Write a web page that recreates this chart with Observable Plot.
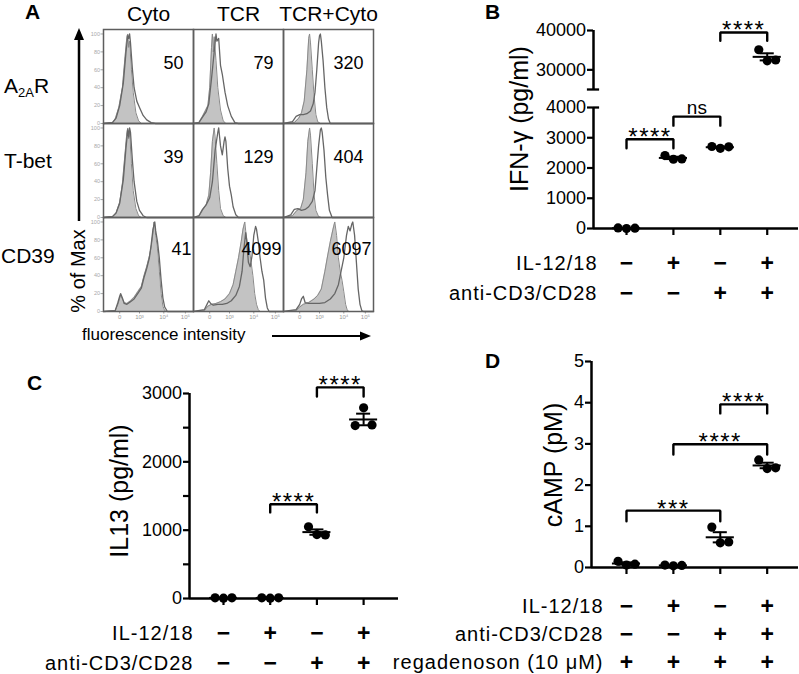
<!DOCTYPE html>
<html><head><meta charset="utf-8">
<script src="https://cdn.jsdelivr.net/npm/d3@7"></script>
<script src="https://cdn.jsdelivr.net/npm/@observablehq/plot@0.6"></script>
<style>
body{margin:0;background:#fff;}
#root{position:relative;width:799px;height:674px;overflow:hidden;font-family:"Liberation Sans",Arial,Helvetica,sans-serif;background:#fff;}
#root svg{position:absolute;}
</style></head><body><div id="root"></div>
<script>
const FONT = '"Liberation Sans", Arial, Helvetica, sans-serif';

// ---------------- Panel A data ----------------
const conditions = ["Cyto", "TCR", "TCR+Cyto"];
const markers = ["A2AR", "T-bet", "CD39"];
const mfiA2AR = [50, 79, 320];
const mfiTbet = [39, 129, 404];
const mfiCD39 = [41, 4099, 6097];
const pctTicks = [0, 20, 40, 60, 80, 100];
const fluorTicks = [18, 40, 67, 91];
const fluorTickLabels = ["0", "10³", "10⁴", "10⁵"];

// histogram curves: [display fluorescence position, % of max]
const a2arCytoIso = [[0,0],[10,1],[13,5],[17,18],[21,40],[24,75],[26,97],[27,100],[28,85],[29,92],[31,60],[33,35],[36,12],[39,3],[42,0],[100,0]];
const a2arCytoSample = [[0,0],[10,1],[14,6],[18,20],[22,45],[25,80],[27,98],[28,95],[29,100],[30,90],[32,62],[34,40],[37,25],[40,18],[44,9],[48,4],[53,1],[58,0],[100,0]];
const a2arTcrIso = [[0,0],[6,1],[10,8],[13,14],[16,20],[18,40],[20,85],[21,100],[22,80],[23,97],[25,70],[27,40],[30,15],[33,3],[36,0],[100,0]];
const a2arTcrSample = [[0,0],[6,1],[10,7],[14,13],[17,22],[20,50],[23,80],[25,100],[26,92],[28,95],[30,65],[32,55],[35,35],[38,20],[42,8],[46,1],[50,0],[100,0]];
const a2arBothIso = [[0,0],[12,1],[17,6],[20,12],[23,25],[26,60],[28,95],[29,100],[30,90],[32,60],[34,30],[36,10],[38,2],[41,0],[100,0]];
const a2arBothSample = [[0,0],[10,2],[14,8],[18,10],[22,10],[26,11],[30,14],[33,22],[35,35],[37,60],[39,90],[40,98],[41,100],[42,92],[44,70],[46,40],[48,18],[50,5],[52,0],[100,0]];
const tbetCytoIso = [[0,0],[10,1],[14,5],[18,17],[21,38],[24,72],[26,95],[27,100],[28,88],[29,96],[31,60],[33,30],[36,10],[39,2],[42,0],[100,0]];
const tbetCytoSample = [[0,0],[10,1],[14,5],[18,16],[22,42],[25,78],[27,98],[28,90],[29,100],[30,95],[32,65],[34,40],[37,18],[40,8],[44,2],[48,0],[100,0]];
const tbetTcrIso = [[0,0],[6,1],[10,8],[14,14],[17,25],[19,50],[21,85],[23,100],[24,90],[26,60],[28,30],[30,10],[33,2],[36,0],[100,0]];
const tbetTcrSample = [[0,0],[6,2],[10,9],[14,14],[18,22],[21,40],[24,75],[27,95],[28,100],[30,80],[32,70],[34,85],[35,90],[36,85],[38,55],[40,35],[42,25],[44,12],[47,3],[50,0],[100,0]];
const tbetBothIso = [[0,0],[10,2],[15,8],[19,10],[22,20],[25,50],[27,85],[29,100],[30,92],[32,60],[34,25],[36,8],[39,1],[42,0],[100,0]];
const tbetBothSample = [[0,0],[8,3],[12,9],[16,10],[20,8],[24,9],[28,12],[32,18],[35,30],[37,55],[39,80],[41,98],[42,100],[43,95],[45,75],[47,45],[49,25],[51,8],[54,0],[100,0]];
const cd39CytoIso = [[0,0],[13,1],[16,8],[18,15],[19,18],[21,14],[23,10],[26,9],[30,12],[34,16],[38,22],[42,28],[45,40],[48,50],[51,62],[53,72],[55,88],[56,100],[57,95],[58,85],[60,70],[62,45],[64,20],[66,6],[68,1],[70,0],[100,0]];
const cd39CytoSample = [[0,0],[13,1],[16,10],[18,17],[19,20],[21,15],[23,9],[26,8],[30,11],[34,14],[38,20],[42,26],[45,38],[48,48],[51,60],[53,75],[55,92],[56,96],[57,100],[58,90],[60,78],[62,60],[64,35],[66,15],[68,5],[71,0],[100,0]];
const cd39TcrIso = [[0,0],[12,1],[16,6],[20,8],[25,9],[30,11],[35,14],[40,20],[44,30],[47,45],[50,60],[53,78],[55,92],[57,100],[58,90],[60,75],[62,70],[64,55],[66,40],[68,20],[70,8],[72,2],[74,0],[100,0]];
const cd39TcrSample = [[0,0],[12,2],[15,8],[17,12],[19,9],[22,7],[27,8],[32,8],[37,9],[42,12],[47,18],[51,28],[54,45],[56,70],[58,88],[59,80],[61,55],[63,50],[65,62],[67,85],[69,95],[70,92],[72,78],[74,60],[76,45],[78,35],[80,15],[82,4],[84,0],[100,0]];
const cd39BothIso = [[0,0],[14,1],[18,5],[22,8],[28,10],[34,14],[38,18],[42,25],[46,45],[49,62],[52,78],[55,92],[57,100],[59,85],[61,60],[63,45],[65,35],[67,22],[69,8],[71,1],[73,0],[100,0]];
const cd39BothSample = [[0,0],[14,2],[18,8],[20,14],[22,17],[24,10],[28,9],[34,9],[40,9],[46,10],[52,14],[57,20],[61,30],[64,45],[67,60],[70,85],[72,95],[74,90],[76,98],[77,100],[79,85],[81,55],[83,25],[85,8],[87,1],[89,0],[100,0]];

// ---------------- Panels B-D data ----------------
const groups = [1, 2, 3, 4];
const il1218Signs = ["−", "+", "−", "+"];
const antiCD3Signs = ["−", "−", "+", "+"];
const regadenosonSigns = ["+", "+", "+", "+"];

// replicate values per group (left, centre, right dot)
const ifngValues = [[20, 0, 10], [2410, 2290, 2300], [2710, 2650, 2700], [35100, 32300, 32500]];
const il13Values = [[10, 5, 10], [10, 5, 10], [1050, 935, 930], [2530, 2790, 2540]];
const campValues = [[0.15, 0.06, 0.08], [0.06, 0.04, 0.05], [0.98, 0.6, 0.62], [2.61, 2.4, 2.42]];

const ifngLowTicks = [0, 1000, 2000, 3000, 4000];
const ifngHighTicks = [30000, 40000];
const il13Ticks = [0, 500, 1000, 1500, 2000, 2500, 3000];
const campTicks = [0, 1, 2, 3, 4, 5];

// significance brackets: from group, to group, bracket top, leg end, label
const ifngLowBrackets = [{from: 1, to: 2, top: 2950, leg: 2650, label: "****"}, {from: 2, to: 3, top: 3700, leg: 3400, label: "ns"}];
const ifngHighBrackets = [{from: 3, to: 4, top: 39500, leg: 37400, label: "****"}];
const il13Brackets = [{from: 2, to: 3, top: 1380, leg: 1260, label: "****"}, {from: 3, to: 4, top: 3090, leg: 2955, label: "****"}];
const campBrackets = [{from: 1, to: 3, top: 1.38, leg: 1.12, label: "***"}, {from: 2, to: 4, top: 2.99, leg: 2.74, label: "****"}, {from: 3, to: 4, top: 3.96, leg: 3.74, label: "****"}];

// ---------------- helpers ----------------
const root = document.getElementById("root");
function place(svg, left, top) {
  svg.style.position = "absolute";
  svg.style.left = left + "px";
  svg.style.top = top + "px";
  svg.style.maxWidth = "none";
  root.appendChild(svg);
  return svg;
}
const baseStyle = {fontFamily: FONT, background: "transparent", overflow: "visible", color: "black"};

// ---------------- Panel A ----------------
const curveTable = [
  ["A2AR", "Cyto", a2arCytoIso, a2arCytoSample], ["A2AR", "TCR", a2arTcrIso, a2arTcrSample], ["A2AR", "TCR+Cyto", a2arBothIso, a2arBothSample],
  ["T-bet", "Cyto", tbetCytoIso, tbetCytoSample], ["T-bet", "TCR", tbetTcrIso, tbetTcrSample], ["T-bet", "TCR+Cyto", tbetBothIso, tbetBothSample],
  ["CD39", "Cyto", cd39CytoIso, cd39CytoSample], ["CD39", "TCR", cd39TcrIso, cd39TcrSample], ["CD39", "TCR+Cyto", cd39BothIso, cd39BothSample]
];
const isoRows = [], sampleRows = [];
for (const [marker, cond, iso, sample] of curveTable) {
  for (const [x, y] of iso) isoRows.push({marker, cond, x, y});
  for (const [x, y] of sample) sampleRows.push({marker, cond, x, y});
}
const mfiRows = [];
[mfiA2AR, mfiTbet, mfiCD39].forEach((arr, i) => arr.forEach((v, j) => mfiRows.push({marker: markers[i], cond: conditions[j], v})));

const plotA = Plot.plot({
  width: 400, height: 350,
  marginLeft: 102, marginRight: 27, marginTop: 29, marginBottom: 39,
  style: baseStyle,
  fx: {domain: conditions, padding: 0, axis: null},
  fy: {domain: markers, padding: 0, axis: null},
  x: {domain: [0, 100]},
  y: {domain: [0, 105]},
  marks: [
    Plot.areaY(isoRows, {fx: "cond", fy: "marker", x: "x", y: "y", fill: "#c3c3c3"}),
    Plot.lineY(isoRows, {fx: "cond", fy: "marker", x: "x", y: "y", stroke: "#8a8a8a", strokeWidth: 1}),
    Plot.lineY(sampleRows, {fx: "cond", fy: "marker", x: "x", y: "y", stroke: "#666", strokeWidth: 1.3}),
    Plot.axisX({ticks: fluorTicks, tickFormat: d => fluorTickLabels[fluorTicks.indexOf(d)], tickSize: 2.5, tickPadding: 1, fontSize: 6, color: "#9a9a9a", label: null}),
    Plot.axisY({ticks: pctTicks, tickSize: 2.5, tickPadding: 1, fontSize: 5.5, color: "#a8a8a8", label: null}),
    Plot.frame({stroke: "#5e5e5e", strokeWidth: 1.5}),
    Plot.text(mfiRows.filter(d => d.marker !== "CD39"), {fx: "cond", fy: "marker", text: d => String(d.v), frameAnchor: "top-right", textAnchor: "end", lineAnchor: "middle", dx: -10, dy: 34, fontSize: 18}),
    Plot.text(mfiRows.filter(d => d.marker === "CD39"), {fx: "cond", fy: "marker", text: d => String(d.v), frameAnchor: "top-right", textAnchor: "end", lineAnchor: "middle", dx: -2, dy: 32, fontSize: 18}),
    Plot.text(conditions, {fx: d => d, fy: () => markers[0], text: d => d, frameAnchor: "top", lineAnchor: "bottom", dy: -9, fontSize: 21})
  ]
});
place(plotA, 0, 0);

// ---------------- dot panels ----------------
const repOffset = [-0.18, 0, 0.18];
function repRows(values) {
  const out = [];
  values.forEach((vals, g) => vals.forEach((v, r) => out.push({group: groups[g], rep: r, value: v})));
  return out;
}
function statsOf(values) {
  return values.map((vals, g) => ({group: groups[g], mean: d3.mean(vals), sem: d3.deviation(vals) / Math.sqrt(vals.length)}));
}
function dotPlot(o) {
  const keep = o.keep || (() => true);
  const reps = repRows(o.values).filter(d => keep(d.value));
  const stats = statsOf(o.values).filter(d => keep(d.mean));
  const pts = [];
  o.brackets.forEach((b, i) => pts.push({id: i, x: b.from, y: b.leg}, {id: i, x: b.from, y: b.top}, {id: i, x: b.to, y: b.top}, {id: i, x: b.to, y: b.leg}));
  const x0 = o.xDomain[0];
  const svg = Plot.plot({
    width: o.width, height: o.height,
    marginLeft: o.marginLeft, marginRight: o.marginRight, marginTop: o.marginTop, marginBottom: o.marginBottom,
    style: baseStyle,
    x: {domain: o.xDomain, axis: o.xAxis ? undefined : null},
    y: {domain: o.yDomain},
    marks: [
      Plot.axisY({ticks: o.yTicks, tickFormat: o.yFormat, tickSize: 6, tickPadding: 1.5, fontSize: 18, strokeWidth: 2.2, label: null}),
      o.xAxis ? Plot.axisX({ticks: groups, tickFormat: () => "", tickSize: 7, strokeWidth: 2.2, label: null}) : null,
      Plot.ruleX([x0], {strokeWidth: 2.5}),
      o.xAxis ? Plot.ruleY([o.yDomain[0]], {strokeWidth: 2.5}) : null,
      ...(o.caps || []).map(c => Plot.ruleY([c.y], {x1: x0 - c.left, x2: x0 + c.right, strokeWidth: 2.3})),
      Plot.line(pts, {x: "x", y: "y", z: "id", strokeWidth: 2.4, strokeLinejoin: "miter"}),
      Plot.text(o.brackets.filter(b => b.label !== "ns"), {x: b => (b.from + b.to) / 2, y: "top", text: "label", lineAnchor: "bottom", dy: 6, fontSize: 24}),
      Plot.text(o.brackets.filter(b => b.label === "ns"), {x: b => (b.from + b.to) / 2, y: "top", text: "label", lineAnchor: "bottom", dy: -3, fontSize: 19}),
      Plot.dot(reps, {x: d => d.group + repOffset[d.rep], y: "value", r: 4.6, fill: "black", stroke: null}),
      Plot.ruleY(stats, {y: "mean", x1: d => d.group - 0.3, x2: d => d.group + 0.3, strokeWidth: 2}),
      Plot.ruleX(stats, {x: "group", y1: d => d.mean - d.sem, y2: d => d.mean + d.sem, strokeWidth: 2}),
      Plot.ruleY(stats, {y: d => d.mean + d.sem, x1: d => d.group - 0.15, x2: d => d.group + 0.15, strokeWidth: 2}),
      Plot.ruleY(stats, {y: d => d.mean - d.sem, x1: d => d.group - 0.15, x2: d => d.group + 0.15, strokeWidth: 2})
    ]
  });
  d3.select(svg).selectAll("text").filter(function() { return this.textContent.includes("*"); }).style("letter-spacing", "1.5px");
  return svg;
}
function tablePlot(o) {
  const cells = [];
  o.rows.forEach((r, i) => o.signs[i].forEach((s, j) => cells.push({row: r, group: groups[j], sign: s})));
  const svg = Plot.plot({
    width: o.width, height: o.height,
    marginLeft: o.marginLeft, marginRight: o.marginRight, marginTop: 0, marginBottom: 0,
    style: baseStyle,
    x: {domain: o.xDomain, axis: null},
    y: {type: "point", domain: o.rows, range: o.yRange, padding: 0, axis: null},
    marks: [
      Plot.text(o.rows, {y: d => d, text: d => d, frameAnchor: "left", textAnchor: "end", dx: o.labelDx, fontSize: 20}),
      Plot.text(cells, {x: "group", y: "row", text: "sign", fontSize: 23, fontWeight: "bold"})
    ]
  });
  d3.select(svg).selectAll("text").filter(function() { return o.rows.includes(this.textContent); }).style("letter-spacing", "1px");
  return svg;
}
const plainFmt = d => String(d);

// Panel B
const xDomB = [0.296, 4.667];
place(dotPlot({values: ifngValues, keep: v => v > 10000, xDomain: xDomB, yDomain: [25000, 40000], yTicks: ifngHighTicks, yFormat: plainFmt,
  width: 399, height: 95, marginLeft: 193, marginRight: 1, marginTop: 30, marginBottom: 6, xAxis: false,
  brackets: ifngHighBrackets, caps: [{y: 25000, left: 0.13, right: 0.13}]}), 400, 0);
place(dotPlot({values: ifngValues, keep: v => v < 10000, xDomain: xDomB, yDomain: [0, 4000], yTicks: ifngLowTicks, yFormat: plainFmt,
  width: 399, height: 145, marginLeft: 193, marginRight: 1, marginTop: 12, marginBottom: 12, xAxis: true,
  brackets: ifngLowBrackets, caps: [{y: 4000, left: 0, right: 0.13}]}), 400, 95);
place(tablePlot({rows: ["IL-12/18", "anti-CD3/CD28"], signs: [il1218Signs, antiCD3Signs], xDomain: xDomB, yRange: [23, 53],
  width: 399, height: 70, marginLeft: 193, marginRight: 1, labelDx: 4}), 400, 240);

// Panel C
const xDomC = [0.272, 4.747];
place(dotPlot({values: il13Values, xDomain: xDomC, yDomain: [0, 3000], yTicks: il13Ticks, yFormat: d => d % 1000 === 0 ? String(d) : "",
  width: 400, height: 250, marginLeft: 189, marginRight: 2, marginTop: 33, marginBottom: 12, xAxis: true, brackets: il13Brackets}), 0, 360);
place(tablePlot({rows: ["IL-12/18", "anti-CD3/CD28"], signs: [il1218Signs, antiCD3Signs], xDomain: xDomC, yRange: [18, 48],
  width: 400, height: 59, marginLeft: 189, marginRight: 2, labelDx: 4}), 0, 615);

// Panel D
const xDomD = [0.254, 4.668];
place(dotPlot({values: campValues, xDomain: xDomD, yDomain: [0, 5], yTicks: campTicks, yFormat: plainFmt,
  width: 399, height: 239, marginLeft: 191, marginRight: 1, marginTop: 21, marginBottom: 12, xAxis: true, brackets: campBrackets}), 400, 340);
place(tablePlot({rows: ["IL-12/18", "anti-CD3/CD28", "regadenoson (10 μM)"], signs: [il1218Signs, antiCD3Signs, regadenosonSigns], xDomain: xDomD, yRange: [20, 77],
  width: 399, height: 89, marginLeft: 191, marginRight: 1, labelDx: 12}), 400, 585);

// ---------------- overlay: panel letters, titles, arrows ----------------
const ov = d3.select(root).append("svg").attr("width", 799).attr("height", 674)
  .style("left", "0px").style("top", "0px").style("pointer-events", "none")
  .attr("font-family", FONT);
const letters = [["A", 25, 19], ["B", 485, 19], ["C", 27, 390], ["D", 485, 368]];
for (const [t, x, y] of letters) ov.append("text").attr("x", x).attr("y", y).attr("font-size", 21).attr("font-weight", "bold").text(t);

const a2 = ov.append("text").attr("x", 4).attr("y", 93).attr("font-size", 21);
a2.append("tspan").text("A");
a2.append("tspan").attr("font-size", 13).attr("dy", 4).text("2A");
a2.append("tspan").attr("dy", -4).text("R");
ov.append("text").attr("x", 4).attr("y", 168).attr("font-size", 21).text("T-bet");
ov.append("text").attr("x", 1).attr("y", 263).attr("font-size", 21).text("CD39");

ov.append("line").attr("x1", 79).attr("x2", 79).attr("y1", 221).attr("y2", 36).attr("stroke", "black").attr("stroke-width", 2.5);
ov.append("path").attr("d", "M79,28 L74,40 L84,40 Z").attr("fill", "black");
ov.append("text").attr("transform", "translate(85,271) rotate(-90)").attr("text-anchor", "middle").attr("font-size", 20).text("% of Max");
ov.append("text").attr("x", 82).attr("y", 340).attr("font-size", 17).text("fluorescence intensity");
ov.append("line").attr("x1", 272).attr("x2", 362).attr("y1", 336).attr("y2", 336).attr("stroke", "black").attr("stroke-width", 2);
ov.append("path").attr("d", "M371,336 L360,331.5 L360,340.5 Z").attr("fill", "black");

ov.append("text").attr("transform", "translate(528,119) rotate(-90)").attr("text-anchor", "middle").attr("font-size", 25).text("IFN-γ (pg/ml)");
ov.append("text").attr("transform", "translate(128,491) rotate(-90)").attr("text-anchor", "middle").attr("font-size", 25).text("IL13 (pg/ml)");
ov.append("text").attr("transform", "translate(562,465) rotate(-90)").attr("text-anchor", "middle").attr("font-size", 25).text("cAMP (pM)");
</script></body></html>
